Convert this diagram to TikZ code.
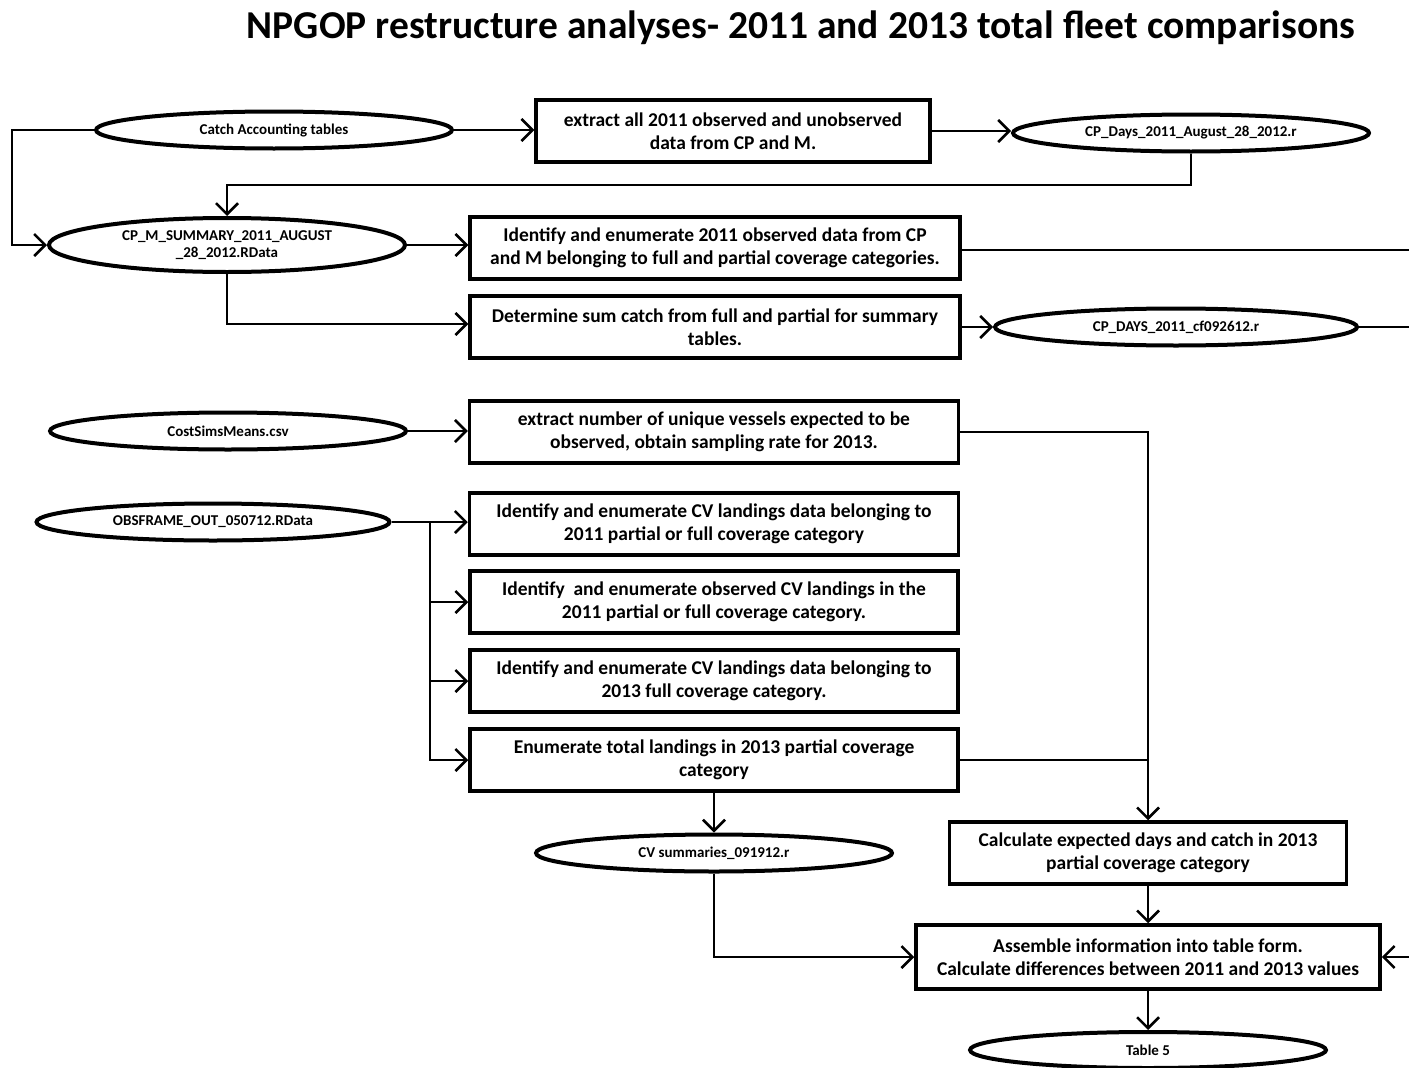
\documentclass[tikz,border=0pt]{standalone}
\usepackage{fontspec}
\setmainfont{Carlito}
\usetikzlibrary{shapes.geometric,arrows.meta}
\begin{document}
\begin{tikzpicture}[x=1pt,y=-1pt,
  every node/.style={font=\bfseries},
  filebox/.style={ellipse,draw,line width=4pt,minimum width=356pt,minimum height=37pt,inner sep=0pt,
    font=\bfseries\fontsize{15}{17}\selectfont,align=center},
  stepbox/.style={rectangle,draw,line width=3.5pt,minimum height=62pt,inner sep=2pt,
    font=\bfseries\fontsize{19.5}{23.5}\selectfont,align=center},
  link/.style={line width=2.5pt},
  arr/.style={link,-{Straight Barb[length=11pt,width=22pt,line width=2.5pt]}}
]
\useasboundingbox (0,0) rectangle (1409,1068);

% title
\node[font=\bfseries\fontsize{39.5}{44}\selectfont] (title) at (801,28) {NPGOP restructure analyses- 2011 and 2013 total fleet comparisons};

% data files
\node[filebox] (cat)   at (274,130) {Catch Accounting tables};
\node[filebox] (cpd)   at (1191,133) {CP\_Days\_2011\_August\_28\_2012.r};
\node[filebox,minimum height=54pt] (cpm) at (227,245) {CP\_M\_SUMMARY\_2011\_AUGUST\\\_28\_2012.RData};
\node[filebox,minimum width=362pt] (cpd2) at (1176,327) {CP\_DAYS\_2011\_cf092612.r};
\node[filebox] (csm)   at (228,431) {CostSimsMeans.csv};
\node[filebox,minimum width=353pt] (obs) at (213,522) {OBSFRAME\_OUT\_050712.RData};
\node[filebox] (cvs)   at (714,853) {CV summaries\_091912.r};
\node[filebox,minimum height=36pt] (tab) at (1148,1050) {Table 5};

% processing steps
\node[stepbox,minimum width=394pt] (ext) at (733,131) {extract all 2011 observed and unobserved\\data from CP and M.};
\node[stepbox,minimum width=490pt] (ide) at (715,248) {Identify and enumerate 2011 observed data from CP\\and M belonging to full and partial coverage categories.};
\node[stepbox,minimum width=490pt] (det) at (715,327) {Determine sum catch from full and partial for summary\\tables.};
\node[stepbox,minimum width=489pt] (unq) at (714,432) {extract number of unique vessels expected to be\\observed, obtain sampling rate for 2013.};
\node[stepbox,minimum width=489pt] (cv1) at (714,524) {Identify and enumerate CV landings data belonging to\\2011 partial or full coverage category};
\node[stepbox,minimum width=488pt] (cv2) at (714,602) {Identify\ \ and enumerate observed CV landings in the\\2011 partial or full coverage category.};
\node[stepbox,minimum width=488pt] (cv3) at (714,681) {Identify and enumerate CV landings data belonging to\\2013 full coverage category.};
\node[stepbox,minimum width=488pt] (enu) at (714,760) {Enumerate total landings in 2013 partial coverage\\category};
\node[stepbox,minimum width=397pt] (cal) at (1148,853) {Calculate expected days and catch in 2013\\partial coverage category};
\node[stepbox,minimum width=464pt,minimum height=64pt] (asm) at (1148,957) {Assemble information into table form.\\Calculate differences between 2011 and 2013 values};

% free ends at the right margin
\coordinate (outA) at (1409,250);
\coordinate (outB) at (1409,327);
\coordinate (inC)  at (1409,957);

% connectors
\draw[arr] (cat.west) -- (12,130) |- (cpm.west);
\draw[arr] (cat.east) -- (ext.west |- cat.east);
\draw[arr] (ext.east) -- (cpd.west |- ext.east);
\draw[arr] (cpd.south) |- (227,185) -- (cpm.north);
\draw[arr] (cpm.east) -- (ide.west |- cpm.east);
\draw[arr] (cpm.south) |- (det.west |- 0,324);
\draw[link] (ide.east |- outA) -- (outA);
\draw[arr] (det.east |- cpd2.west) -- (cpd2.west);
\draw[link] (cpd2.east) -- (outB);
\draw[arr] (csm.east) -- (unq.west |- csm.east);
\draw[arr] (unq.east) -| (cal.north);
\draw[arr] (obs.east) -- (cv1.west |- obs.east);
\draw[arr] (430,522) |- (cv2.west);
\draw[arr] (430,522) |- (cv3.west);
\draw[arr] (430,522) |- (enu.west);
\draw[link] (enu.east) -- (cal.north |- enu.east);
\draw[arr] (enu.south) -- (cvs.north);
\draw[arr] (cvs.south) |- (asm.west);
\draw[arr] (cal.south) -- (asm.north);
\draw[arr] (inC) -- (asm.east);
\draw[arr] (asm.south) -- (tab.north);
\end{tikzpicture}
\end{document}
